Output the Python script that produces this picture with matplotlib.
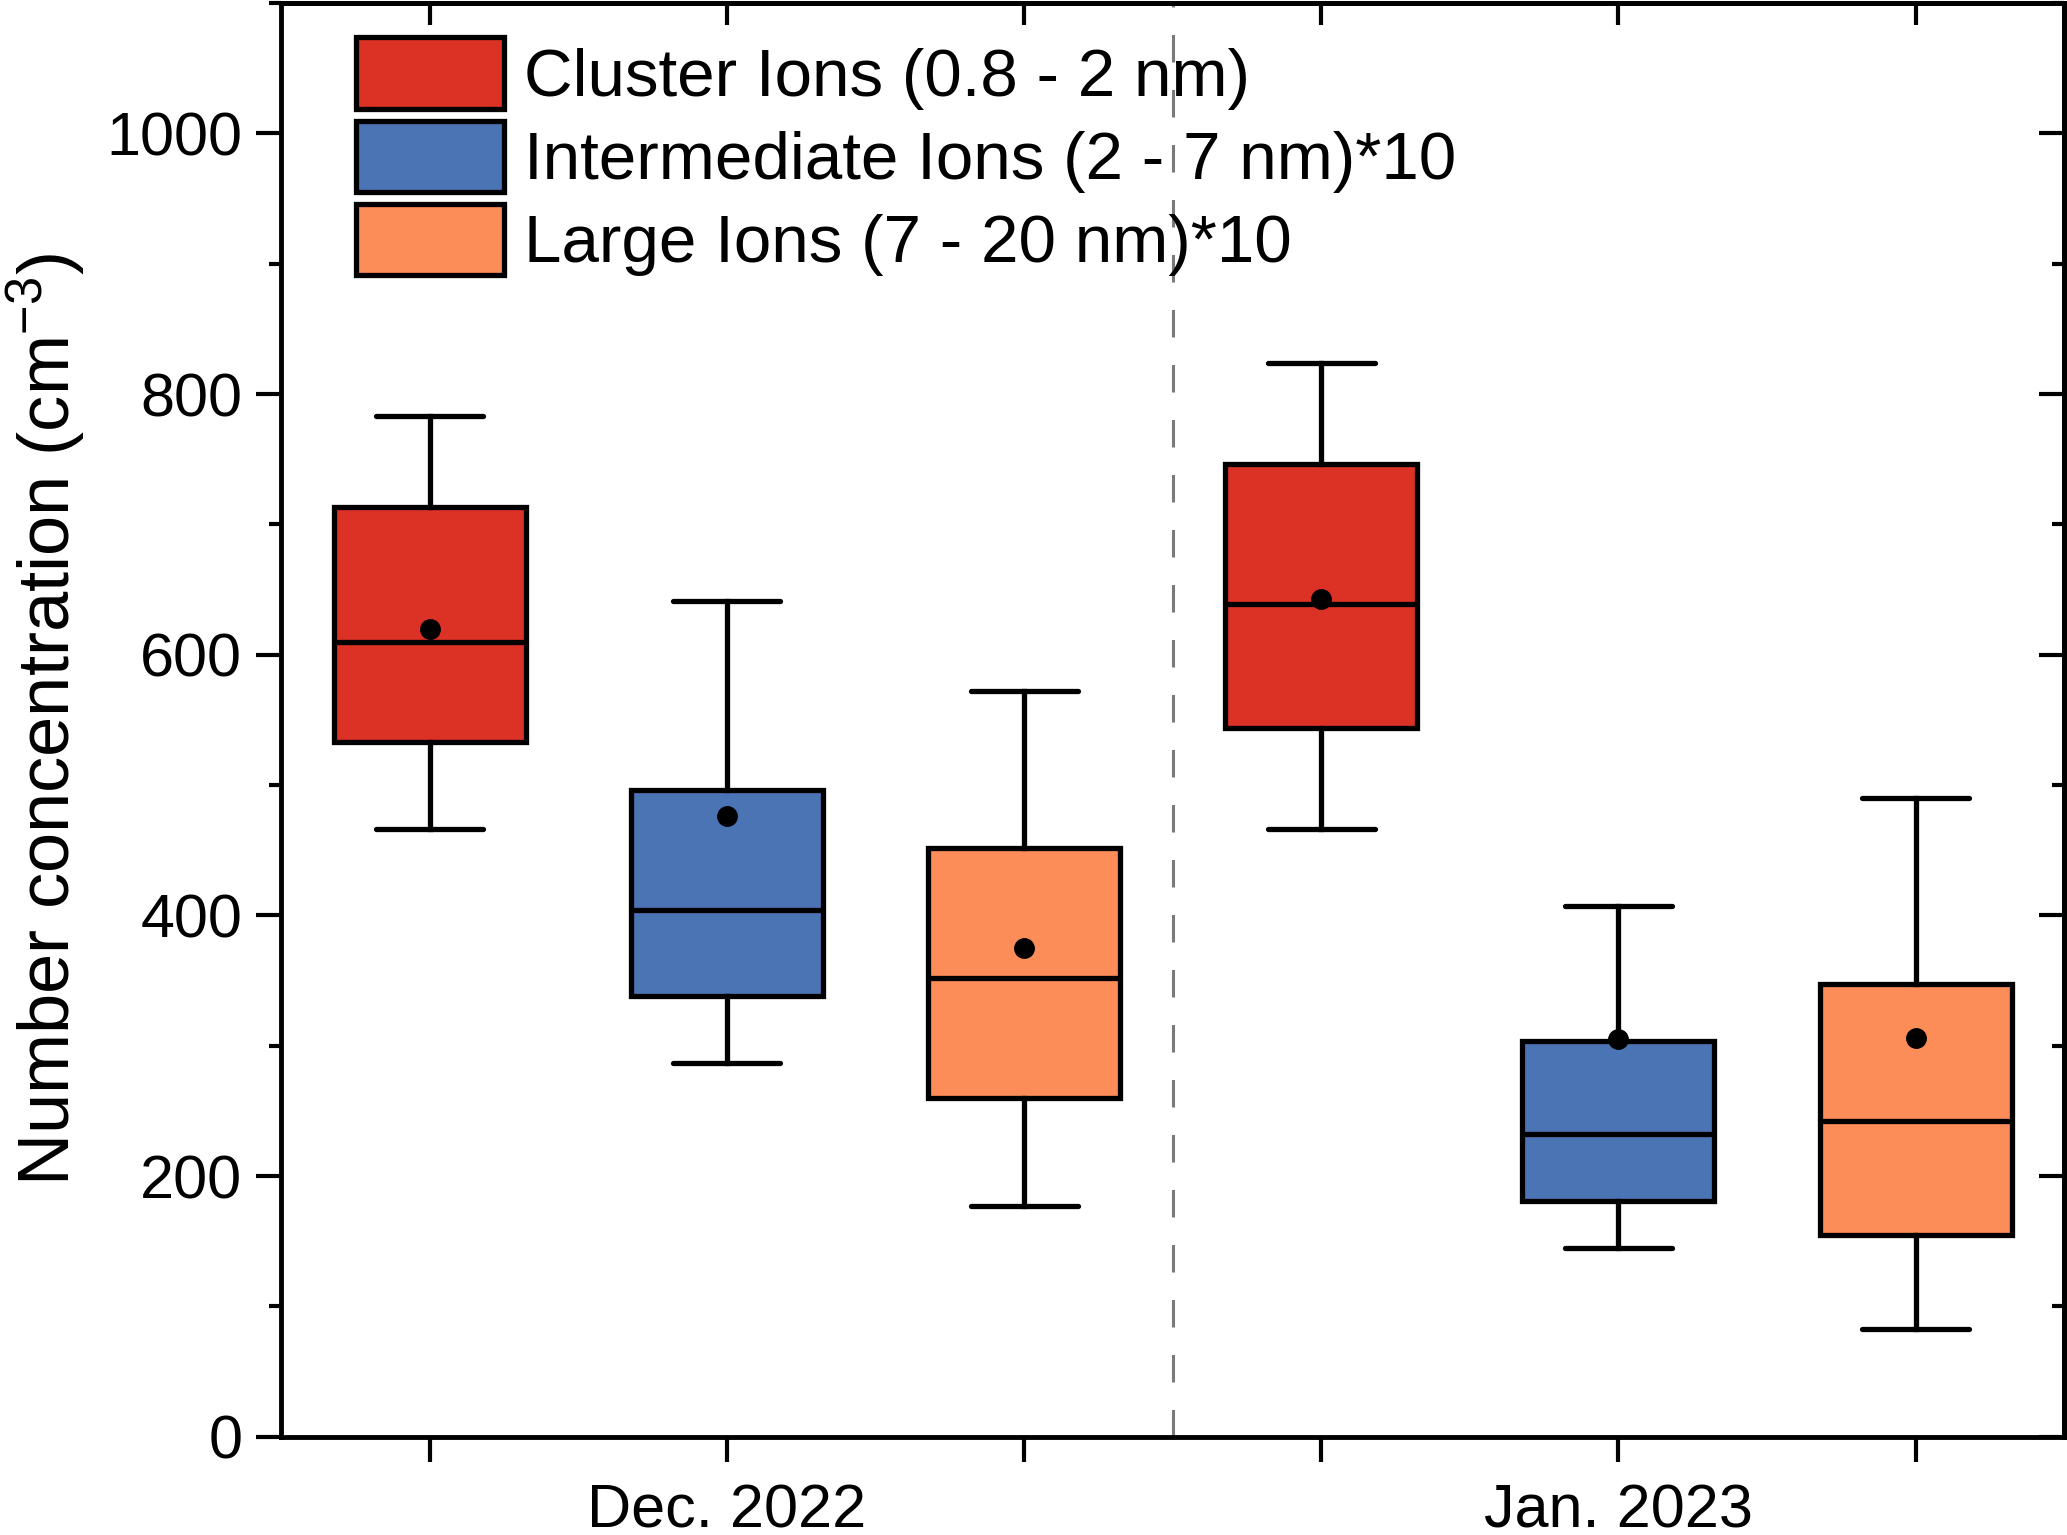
import matplotlib
matplotlib.use('Agg')
import matplotlib.pyplot as plt
from matplotlib.patches import Patch
from matplotlib.ticker import MultipleLocator

plt.rcParams['font.family'] = ['Liberation Sans', 'DejaVu Sans']
plt.rcParams['mathtext.fontset'] = 'custom'
plt.rcParams['mathtext.rm'] = 'Liberation Sans'
plt.rcParams['mathtext.default'] = 'regular'

# values (cm^-3, intermediate/large already x10)
labels = ['Cluster Ions (0.8 - 2 nm)', 'Intermediate Ions (2 - 7 nm)*10', 'Large Ions (7 - 20 nm)*10']
colors = ['#DC3226', '#4A74B4', '#FC8D59']
positions = [1, 2, 3, 4, 5, 6]
whislo = [466, 287, 177, 466, 145, 83]
q1 = [533, 338, 260, 544, 181, 155]
med = [610, 404, 352, 639, 232, 242]
q3 = [713, 496, 452, 746, 304, 347]
whishi = [783, 641, 572, 824, 407, 490]
means = [620, 476, 375, 643, 305, 306]
box_colors = colors + colors
month_labels = ['Dec. 2022', 'Jan. 2023']

stats = []
for i in range(len(positions)):
    stats.append({'whislo': whislo[i], 'q1': q1[i], 'med': med[i], 'q3': q3[i],
                  'whishi': whishi[i], 'mean': means[i], 'fliers': []})

fig = plt.figure(figsize=(20.67, 15.35), dpi=100)
ax = fig.add_axes([0.136, 0.064, 0.8626, 0.934])

lw = 3.8
bp = ax.bxp(stats, positions=positions, widths=0.646, patch_artist=True, showmeans=True,
            showfliers=False,
            boxprops=dict(linewidth=lw, edgecolor='black'),
            medianprops=dict(color='black', linewidth=lw),
            whiskerprops=dict(color='black', linewidth=lw),
            capprops=dict(color='black', linewidth=lw),
            meanprops=dict(marker='o', markerfacecolor='black', markeredgecolor='black',
                           markersize=14))
for patch, c in zip(bp['boxes'], box_colors):
    patch.set_facecolor(c)
for cap in bp['caps']:
    x = cap.get_xdata()
    mid = (x[0] + x[1]) / 2
    cap.set_xdata([mid - 0.18, mid + 0.18])
    cap.set_solid_capstyle('round')

ax.axvline(3.5, color='#7a7a7a', linewidth=2.2, linestyle=(0, (9, 9)), zorder=0)

ax.set_xlim(0.5, 6.5)
ax.set_ylim(0, 1100)
ax.set_xticks(positions)
ax.set_xticklabels(['', month_labels[0], '', '', month_labels[1], ''])
ax.yaxis.set_minor_locator(MultipleLocator(100))
ax.set_yticks([0, 200, 400, 600, 800, 1000])

for s in ax.spines.values():
    s.set_linewidth(3.5)

ax.tick_params(axis='both', which='major', direction='out', length=18, width=3,
               labelsize=44)
ax.tick_params(axis='y', which='minor', direction='out', length=9, width=3)
ax.tick_params(axis='x', pad=16)
ax.tick_params(axis='y', pad=10)

# mirrored inward ticks on the right and top
ax_r = ax.secondary_yaxis('right')
ax_r.set_yticks([0, 200, 400, 600, 800, 1000])
ax_r.yaxis.set_minor_locator(MultipleLocator(100))
ax_r.tick_params(which='major', direction='in', length=18, width=3, labelright=False)
ax_r.tick_params(which='minor', direction='in', length=9, width=3)
ax_r.spines['right'].set_linewidth(3.5)
ax_t = ax.secondary_xaxis('top')
ax_t.set_xticks(positions)
ax_t.tick_params(direction='in', length=16, width=3, labeltop=False)
ax_t.spines['top'].set_linewidth(3.5)

ax.set_ylabel('Number concentration (cm$^{-3}$)', fontsize=52, labelpad=14)

handles = [Patch(facecolor=c, edgecolor='black', linewidth=3.8) for c in colors]
ax.legend(handles, labels, loc='upper left', bbox_to_anchor=(0.042, 0.976), frameon=False,
          fontsize=48.5, handlelength=2.2, handleheight=1.25, handletextpad=0.3,
          labelspacing=0.16, borderpad=0, borderaxespad=0)

fig.savefig('out.png', dpi=100)
